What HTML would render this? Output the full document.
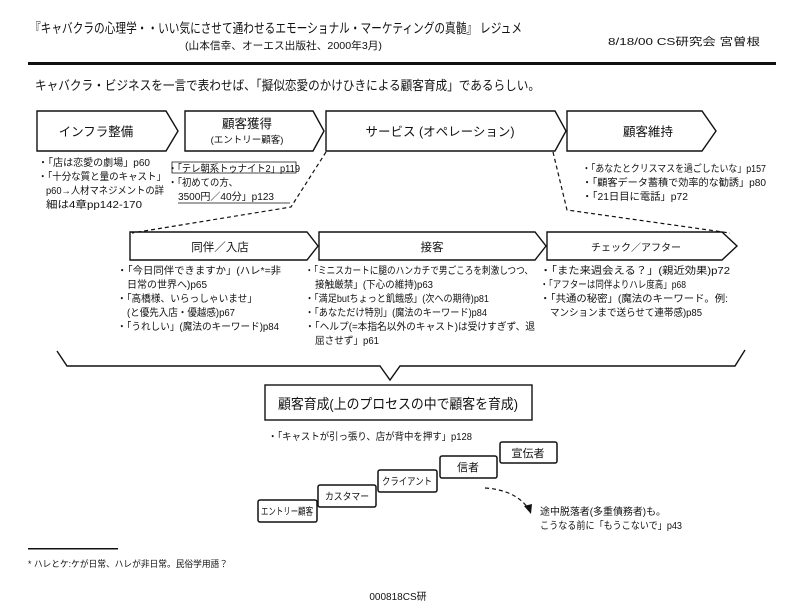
<!DOCTYPE html>
<html><head><meta charset="utf-8"><style>
body{margin:0;background:#fff;}
svg{display:block}
text{font-family:"Liberation Sans","Noto Sans CJK JP",sans-serif;fill:#111;}
</style></head><body>
<svg width="789" height="616" viewBox="0 0 789 616" xmlns="http://www.w3.org/2000/svg">
<rect width="789" height="616" fill="#fff"/>
<text x="30" y="33" font-size="13.5" textLength="492" lengthAdjust="spacingAndGlyphs">『キャバクラの心理学・・いい気にさせて通わせるエモーショナル・マーケティングの真髄』 レジュメ</text>
<text x="185" y="49" font-size="10.5" textLength="197" lengthAdjust="spacingAndGlyphs">(山本信幸、オーエス出版社、2000年3月)</text>
<text x="608" y="45" font-size="10.5" textLength="152" lengthAdjust="spacingAndGlyphs">8/18/00 CS研究会  宮曽根</text>
<rect x="28" y="62" width="748" height="3" fill="#111"/>
<text x="35" y="90" font-size="13" textLength="505" lengthAdjust="spacingAndGlyphs">キャバクラ・ビジネスを一言で表わせば、「擬似恋愛のかけひきによる顧客育成」であるらしい。</text>

<g fill="none" stroke="#111" stroke-width="1.4">
<path d="M37 111H166L178 131L166 151H37Z"/>
<path d="M185 111H313L324 131L313 151H185Z"/>
<path d="M326 111H555L566 131L555 151H326Z"/>
<path d="M567 111H702L716 131L702 151H567Z"/>
<path d="M130 232H307L318 246L307 260H130Z"/>
<path d="M319 232H535L546 246L535 260H319Z"/>
<path d="M547 232H722L737 246L722 260H547Z"/>
<path d="M57 351L67 366H380L390 380L400 366H735L745 350" />
<rect x="265" y="385" width="267" height="35"/>
</g>
<g fill="none" stroke="#111" stroke-width="1.2" stroke-dasharray="4,3">
<path d="M326 152L291 207L132 233"/>
<path d="M553 152L567 210L730 233"/>
<path d="M485 488Q515 490 528 508"/>
</g>
<path d="M524 506L531 514L532 504Z" fill="#111"/>

<g font-size="12.5" text-anchor="middle">
<text x="96" y="136">インフラ整備</text>
<text x="247" y="128">顧客獲得</text>
<text x="247" y="143" font-size="9.5">(エントリー顧客)</text>
<text x="440" y="136">サービス (オペレーション)</text>
<text x="648" y="136">顧客維持</text>
<text x="220" y="251" font-size="11.5">同伴／入店</text>
<text x="432" y="251" font-size="11.5">接客</text>
<text x="636" y="251" font-size="10">チェック／アフター</text>
<text x="398" y="409" font-size="14" textLength="240" lengthAdjust="spacingAndGlyphs">顧客育成(上のプロセスの中で顧客を育成)</text>
</g>

<g font-size="10" lengthAdjust="spacingAndGlyphs">
<text x="38" y="166" textLength="112" lengthAdjust="spacingAndGlyphs">・「店は恋愛の劇場」p60</text>
<text x="38" y="180" textLength="128" lengthAdjust="spacingAndGlyphs">・「十分な質と量のキャスト」</text>
<text x="46" y="194" textLength="118" lengthAdjust="spacingAndGlyphs">p60→人材マネジメントの詳</text>
<text x="46" y="208" textLength="96" lengthAdjust="spacingAndGlyphs">細は4章pp142-170</text>
<text x="168" y="172" textLength="132" lengthAdjust="spacingAndGlyphs">・「テレ朝系トゥナイト2」p119</text>
<text x="168" y="186" textLength="70" lengthAdjust="spacingAndGlyphs">・「初めての方、</text>
<text x="178" y="200" textLength="96" lengthAdjust="spacingAndGlyphs">3500円／40分」p123</text>
<text x="582" y="172" textLength="184" lengthAdjust="spacingAndGlyphs">・「あなたとクリスマスを過ごしたいな」p157</text>
<text x="582" y="186" textLength="184" lengthAdjust="spacingAndGlyphs">・「顧客データ蓄積で効率的な勧誘」p80</text>
<text x="582" y="200" textLength="106" lengthAdjust="spacingAndGlyphs">・「21日目に電話」p72</text>

<text x="117" y="274" textLength="164" lengthAdjust="spacingAndGlyphs">・「今日同伴できますか」(ハレ*=非</text>
<text x="127" y="288" textLength="80" lengthAdjust="spacingAndGlyphs">日常の世界へ)p65</text>
<text x="117" y="302" textLength="140" lengthAdjust="spacingAndGlyphs">・「高橋様、いらっしゃいませ」</text>
<text x="127" y="316" textLength="108" lengthAdjust="spacingAndGlyphs">(と優先入店・優越感)p67</text>
<text x="117" y="330" textLength="162" lengthAdjust="spacingAndGlyphs">・「うれしい」(魔法のキーワード)p84</text>
<text x="305" y="274" textLength="228" lengthAdjust="spacingAndGlyphs">・「ミニスカートに腿のハンカチで男ごころを刺激しつつ、</text>
<text x="315" y="288" textLength="118" lengthAdjust="spacingAndGlyphs">接触厳禁」(下心の維持)p63</text>
<text x="305" y="302" textLength="184" lengthAdjust="spacingAndGlyphs">・「満足butちょっと飢餓感」(次への期待)p81</text>
<text x="305" y="316" textLength="182" lengthAdjust="spacingAndGlyphs">・「あなただけ特別」(魔法のキーワード)p84</text>
<text x="305" y="330" textLength="230" lengthAdjust="spacingAndGlyphs">・「ヘルプ(=本指名以外のキャスト)は受けすぎず、退</text>
<text x="315" y="344" textLength="64" lengthAdjust="spacingAndGlyphs">屈させず」p61</text>
<text x="540" y="274" textLength="190" lengthAdjust="spacingAndGlyphs">・「また来週会える？」(親近効果)p72</text>
<text x="540" y="288" textLength="146" lengthAdjust="spacingAndGlyphs">・「アフターは同伴よりハレ度高」p68</text>
<text x="540" y="302" textLength="188" lengthAdjust="spacingAndGlyphs">・「共通の秘密」(魔法のキーワード。例:</text>
<text x="550" y="316" textLength="152" lengthAdjust="spacingAndGlyphs">マンションまで送らせて連帯感)p85</text>
<text x="268" y="440" textLength="204" lengthAdjust="spacingAndGlyphs">・「キャストが引っ張り、店が背中を押す」p128</text>
<text x="540" y="515" textLength="126" lengthAdjust="spacingAndGlyphs">途中脱落者(多重債務者)も。</text>
<text x="540" y="529" textLength="142" lengthAdjust="spacingAndGlyphs">こうなる前に「もうこないで」p43</text>
</g>
<path d="M172 162H296V173H172Z M178 203H290" fill="none" stroke="#111" stroke-width="0.8"/>

<g fill="#fff" stroke="#111" stroke-width="1.5">
<rect x="258" y="500" width="59" height="22" rx="2"/>
<rect x="318" y="485" width="58" height="22" rx="2"/>
<rect x="378" y="470" width="59" height="22" rx="2"/>
<rect x="440" y="456" width="57" height="22" rx="2"/>
<rect x="500" y="442" width="57" height="21" rx="2"/>
</g>
<g font-size="10" text-anchor="middle">
<text x="287" y="515" textLength="52" lengthAdjust="spacingAndGlyphs">エントリー顧客</text>
<text x="347" y="500" textLength="44" lengthAdjust="spacingAndGlyphs">カスタマー</text>
<text x="407" y="485" textLength="50" lengthAdjust="spacingAndGlyphs">クライアント</text>
<text x="468" y="471" font-size="11">信者</text>
<text x="528" y="457" font-size="11">宣伝者</text>
</g>
<rect x="28" y="548" width="90" height="1.5" fill="#111"/>
<text x="28" y="567" font-size="9" textLength="200" lengthAdjust="spacingAndGlyphs">* ハレとケ:ケが日常、ハレが非日常。民俗学用語？</text>
<text x="398" y="600" font-size="10" text-anchor="middle">000818CS研</text>
</svg>
</body></html>
